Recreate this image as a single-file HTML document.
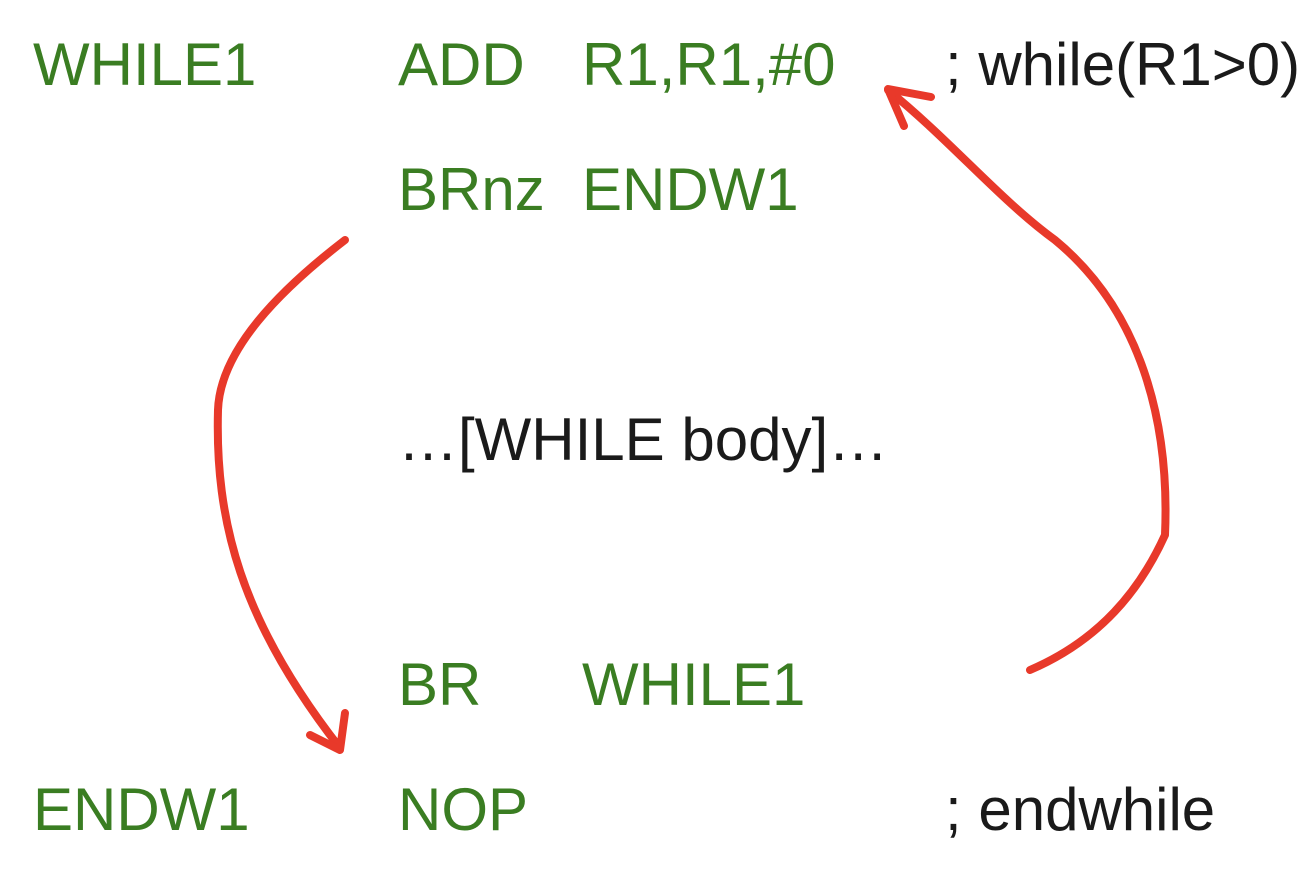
<!DOCTYPE html>
<html><head><style>
html,body{margin:0;padding:0;background:#fff;}
svg{display:block;}
text{font-family:"Liberation Sans",Arial,sans-serif;font-size:60px;}
.g{fill:#3a7d22;}
.k{fill:#1a1a1a;}
</style></head><body>
<svg width="1310" height="884" viewBox="0 0 1310 884">
<text x="33" y="85" class="g">WHILE1</text>
<text x="398" y="85" class="g">ADD</text>
<text x="582" y="85" class="g">R1,R1,#0</text>
<text x="945" y="85" class="k">; while(R1&gt;0)</text>
<text x="398" y="210" class="g">BRnz</text>
<text x="582" y="210" class="g">ENDW1</text>
<text x="398" y="460" class="k">…[WHILE body]…</text>
<text x="398" y="705" class="g">BR</text>
<text x="582" y="705" class="g">WHILE1</text>
<text x="33" y="830" class="g">ENDW1</text>
<text x="398" y="830" class="g">NOP</text>
<text x="945" y="830" class="k">; endwhile</text>
<g fill="none" stroke="#e8392a" stroke-width="8" stroke-linecap="round" stroke-linejoin="round">
<path d="M345 240 C280 290 220 350 218 410 C215 520 240 620 340 748"/>
<path d="M310 735 L340 750 L345 713"/>
<path d="M1030 670 C1100 640 1140 590 1165 535 C1170 420 1140 310 1055 240 C1000 200 950 140 888 90"/>
<path d="M931 97 L888 89 L904 126"/>
</g>
</svg>
</body></html>
